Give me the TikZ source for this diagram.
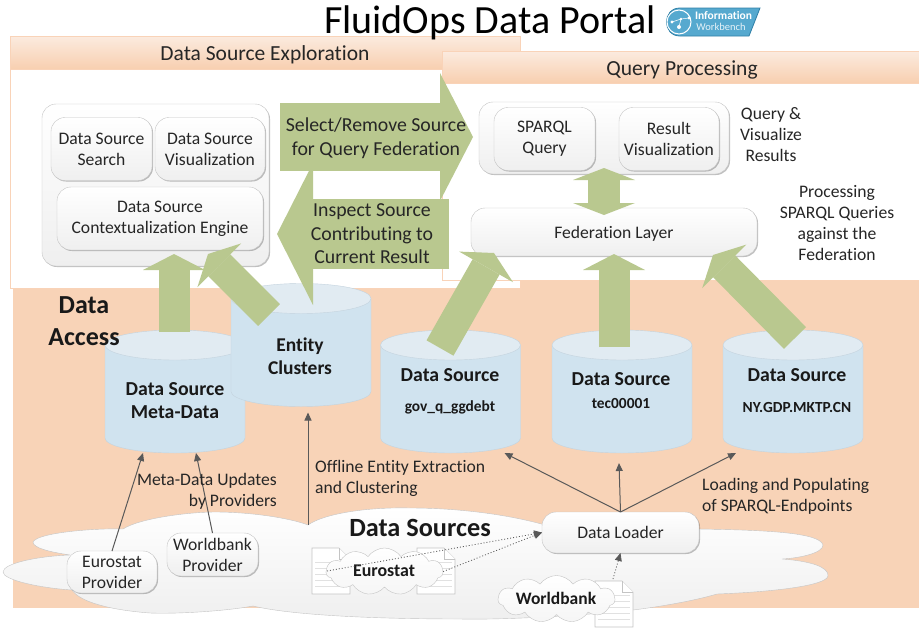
\documentclass[tikz,border=0pt]{standalone}
\usepackage{fontspec}
\setmainfont{Carlito}[Ligatures=NoCommon]
\usetikzlibrary{arrows.meta,shapes.symbols,shadows}
\definecolor{accessorange}{HTML}{F8D3B7}
\definecolor{panelline}{HTML}{F9D3B8}
\definecolor{headtop}{HTML}{FBEBDF}
\definecolor{headbottom}{HTML}{F8CFB0}
\definecolor{blockgreen}{HTML}{B9C88F}
\definecolor{dbbody}{HTML}{D0E3EF}
\definecolor{dbtop}{HTML}{E1EBF2}
\definecolor{dbline}{HTML}{C4D3DE}
\definecolor{softline}{HTML}{C4C4C4}
\definecolor{softend}{HTML}{EFEFEF}
\definecolor{thinarrow}{HTML}{595959}
\definecolor{inktext}{HTML}{262626}
\definecolor{logoblue}{HTML}{56A9CF}
\definecolor{logoline}{HTML}{2F7FA6}
\tikzset{
  note/.style={font=\fontsize{17.6}{21}\selectfont,text=inktext,inner sep=0pt,align=center},
  strongtext/.style={font=\fontsize{#1}{1.2\dimexpr#1pt\relax}\selectfont\bfseries,text=black!90,inner sep=0pt,align=center},
  panel/.style={draw=panelline,fill=white,inner sep=0pt,outer sep=0pt},
  panelhead/.style={draw=panelline,top color=headtop,bottom color=headbottom,inner sep=0pt,outer sep=0pt},
  softbox/.style={draw=softline,top color=white,bottom color=softend,rounded corners=14pt,inner sep=0pt,outer sep=0pt,
    align=center,font=\fontsize{17.6}{21}\selectfont,text=inktext,
    drop shadow={shadow xshift=1pt,shadow yshift=-1pt,opacity=.25,fill=black}},
  textdrop/.style={execute at begin node={\rule{0pt}{#1}}},
  blockarrow/.style={color=blockgreen,line width=#1},
  thinlink/.style={draw=thinarrow,line width=1pt,-{Triangle[length=8pt,width=7pt]}},
  dotlink/.style={thinlink,dotted,line width=.8pt},
  puff/.style={shape=cloud,cloud puffs=11,cloud puff arc=110,aspect=2.5,draw=softline,top color=white,bottom color=softend!60!white,
    inner sep=0pt,outer sep=0pt,minimum width=117pt,minimum height=47pt},
  docpage/.style={draw=softline,fill=white,line width=.7pt}
}
\begin{document}
\begin{tikzpicture}[x=1pt,y=-1pt]
  \useasboundingbox (0,0) rectangle (919,627);

  %orange background
	\fill[accessorange] (13,280) rectangle (919,608);

  %exploration panel
	\node[panel,minimum width=510pt,minimum height=252pt] (explorepanel) at (265,162) {};
	\node[panelhead,minimum width=510pt,minimum height=33pt] (explorehead) at (265,52.5) {};
	\node[note,font=\fontsize{21.5}{25}\selectfont] (exploretitle) at (265,54.5) {Data Source Exploration};

  %query panel
	\node[panel,minimum width=477pt,minimum height=229pt] (querypanel) at (680.5,165.5) {};
	\node[panelhead,minimum width=477pt,minimum height=32pt] (queryhead) at (680.5,67) {};
	\node[note,font=\fontsize{21.5}{25}\selectfont] (querytitle) at (682,69.5) {Query Processing};

  %title and logo
	\node[inner sep=0pt,font=\fontsize{40}{48}\selectfont] (portaltitle) at (490,23) {FluidOps Data Portal};
	\draw[logoline,fill=logoblue,line width=.8pt] (680,8) -- (760,8) -- (749,36) -- (680,36) .. controls (662,36) and (662,8) .. (680,8) -- cycle;
	\node[circle,draw=white,fill=logoblue,line width=1pt,minimum size=24pt,inner sep=0pt] (logodisc) at (679,22) {};
	\fill[white] (672,22) circle (1.6) (681,19) circle (1.4) (689,18) circle (1.6) (679,27) circle (2);
	\draw[white,line width=.5pt] (672,22) -- (681,19) -- (689,18) (681,19) -- (679,27);
	\node[inner sep=0pt,text=white,font=\fontsize{11.5}{12}\selectfont\bfseries] (logotop) at (723.5,16) {Information};
	\node[inner sep=0pt,text=white!85!logoblue,font=\fontsize{10.5}{11}\selectfont] (logobottom) at (721,27) {Workbench};

  %exploration boxes
	\node[softbox,minimum width=227pt,minimum height=162pt] (exploregroup) at (155.5,185) {};
	\node[softbox,minimum width=101pt,minimum height=63pt] (sourcesearch) at (101.5,149) {Data Source\\Search};
	\node[softbox,minimum width=110pt,minimum height=63pt] (sourceviz) at (210,149) {Data Source\\Visualization};
	\node[softbox,textdrop=21pt,minimum width=206pt,minimum height=63pt] (contextengine) at (160,218.5) {Data Source\\Contextualization Engine};

  %query boxes
	\node[softbox,minimum width=250pt,minimum height=72pt] (querygroup) at (604,138) {};
	\node[softbox,minimum width=101pt,minimum height=63pt] (sparqlquery) at (544.5,139) {SPARQL\\Query};
	\node[softbox,minimum width=100pt,minimum height=63pt] (resultviz) at (669,139) {Result\\Visualization};
	\node[softbox,textdrop=15pt,minimum width=286pt,minimum height=48pt] (federation) at (614,232) {Federation Layer};

  %side notes
	\node[note] (querynote) at (771,134.5) {Query \&\\Visualize\\Results};
	\node[note] (processnote) at (837,223.5) {Processing\\SPARQL Queries\\against the\\Federation};

  %cylinders
	\foreach \dbname/\dbx/\dby in {metadb/175/391.5,entitydb/301/345,gdbdb/450.5/391.5,tecdb/622/391.5,gdpdb/793/391.5}{
	  \node[minimum width=140pt,minimum height=123pt,inner sep=0pt,outer sep=0pt] (\dbname) at (\dbx,\dby) {};
	  \draw[dbline,fill=dbbody] ([yshift=-15pt]\dbname.north west) -- ([yshift=15pt]\dbname.south west)
	    arc[start angle=180,end angle=360,x radius=70pt,y radius=15pt] -- ([yshift=-15pt]\dbname.north east) -- cycle;
	  \draw[dbline,fill=dbtop] ([yshift=-15pt]\dbname.north) ellipse[x radius=70pt,y radius=15pt];
	}
	\node[strongtext=26] (accesslabel) at (84,321.5) {Data\\[1pt]Access};
	\node[strongtext=19.8] (metalabel) at (175,400.5) {Data Source\\Meta-Data};
	\node[strongtext=19.5] (entitylabel) at (300,356.5) {Entity\\Clusters};
	\node[strongtext=19.8] (gdbtitle) at (450,375.5) {Data Source};
	\node[strongtext=15.4] (gdbcode) at (450,407) {gov\_q\_ggdebt};
	\node[strongtext=19.8] (tectitle) at (621,379.5) {Data Source};
	\node[strongtext=15.4] (teccode) at (621,404) {tec00001};
	\node[strongtext=19.8] (gdptitle) at (797,375.5) {Data Source};
	\node[strongtext=15.4] (gdpcode) at (797,407) {NY.GDP.MKTP.CN};

  %block arrows
	\coordinate (metatail) at (174,332);
	\coordinate (metatip) at (174,254);
	\coordinate (entitytail) at (269,315);
	\coordinate (entitytip) at (208,254);
	\coordinate (gdbtail) at (440,348);
	\coordinate (gdbtip) at (494,253);
	\coordinate (tectail) at (614,347);
	\coordinate (tectip) at (614,254);
	\coordinate (gdptail) at (795,338);
	\coordinate (gdptip) at (713,255);
	\coordinate (bothtop) at (604,168);
	\coordinate (bothbottom) at (604,215);
	\coordinate (selecttail) at (280,137);
	\coordinate (selecttip) at (473,137);
	\coordinate (inspecttail) at (449,234);
	\coordinate (inspecttip) at (277,234);
	\draw[blockarrow=31pt,-{Triangle[length=16pt,width=62pt,line width=0pt]}] (metatail) -- (metatip);
	\draw[blockarrow=31pt,-{Triangle[length=16pt,width=62pt,line width=0pt]}] (entitytail) -- (entitytip);
	\draw[blockarrow=31pt,-{Triangle[length=16pt,width=62pt,line width=0pt]}] (gdbtail) -- (gdbtip);
	\draw[blockarrow=31pt,-{Triangle[length=16pt,width=62pt,line width=0pt]}] (tectail) -- (tectip);
	\draw[blockarrow=31pt,-{Triangle[length=16pt,width=62pt,line width=0pt]}] (gdptail) -- (gdptip);
	\draw[blockarrow=32pt,{Triangle[length=12pt,width=62pt,line width=0pt]}-{Triangle[length=12pt,width=62pt,line width=0pt]}] (bothtop) -- (bothbottom);
	\draw[blockarrow=68pt,-{Triangle[length=33pt,width=128pt,line width=0pt]}] (selecttail) -- (selecttip);
	\draw[blockarrow=70pt,-{Triangle[length=36pt,width=142pt,line width=0pt]}] (inspecttail) -- (inspecttip);
	\node[note,font=\fontsize{19.8}{24}\selectfont] (selectlabel) at (376,138) {Select/Remove Source\\for Query Federation};
	\node[note,font=\fontsize{19.8}{23.5}\selectfont] (inspectlabel) at (372,234) {Inspect Source\\Contributing to\\Current Result};

  %big cloud
	\path[draw=softline,top color=white,bottom color=softend] (33,542) .. controls (38,532) and (100,528) .. (123,529)
	  .. controls (140,518) and (190,512) .. (215,512) .. controls (250,512) and (290,518) .. (308,525)
	  .. controls (325,513) and (370,507) .. (410,508) .. controls (460,508) and (510,515) .. (545,525)
	  -- (698,529) .. controls (760,530) and (820,532) .. (823,545) .. controls (823,553) and (800,558) .. (782,559)
	  .. controls (810,561) and (829,567) .. (828,576) .. controls (826,586) and (770,592) .. (717,594)
	  .. controls (690,602) and (650,608) .. (633,610) .. controls (580,616) and (500,620) .. (460,619)
	  .. controls (400,619) and (300,617) .. (253,606) .. controls (220,612) and (170,614) .. (150,613)
	  .. controls (110,610) and (80,602) .. (72,590) .. controls (40,588) and (3,580) .. (3,572)
	  .. controls (3,563) and (40,556) .. (70,555) .. controls (50,552) and (33,548) .. (33,542) -- cycle;
	\coordinate (cloudtop) at (308,525);
	\node[strongtext=26.3] (sourceslabel) at (420,527.5) {Data Sources};

  %documents
	\foreach \docx/\docy in {312/548,417/548,595/581}{
	  \draw[docpage] (\docx,\docy) -- ++(27,0) -- ++(11,11) -- ++(0,35) -- ++(-38,0) -- cycle;
	  \draw[docpage] (\docx+27,\docy) -- ++(0,11) -- ++(11,0);
	  \foreach \docline in {14,20,...,38}
	    \draw[softline!50,line width=.5pt] (\docx+3,\docy+\docline) -- ++(32,0);
	}

  %small clouds
	\node[puff] (eurostatcloud) at (384.5,571.5) {};
	\node[strongtext=17.9] (eurostatlabel) at (384,571) {Eurostat};
	\node[puff] (worldbankcloud) at (556.5,599) {};
	\node[strongtext=17.5] (worldbanklabel) at (556,598) {Worldbank};

  %providers and loader
	\node[softbox,minimum width=90pt,minimum height=42pt] (eurostatprov) at (112,572) {Eurostat\\Provider};
	\node[softbox,minimum width=91pt,minimum height=43pt] (worldbankprov) at (212.5,554.5) {Worldbank\\Provider};
	\node[softbox,minimum width=157pt,minimum height=41pt] (dataloader) at (620.5,532.5) {Data Loader};

  %thin arrows
	\draw[thinlink] (eurostatprov.north) -- ([xshift=-32pt]metadb.south);
	\draw[thinlink] (worldbankprov.north) -- ([xshift=21pt]metadb.south);
	\draw[thinlink] (cloudtop) -- ([xshift=7pt,yshift=-6pt]entitydb.south);
	\draw[thinlink] (dataloader.north) -- ([xshift=54pt]gdbdb.south);
	\draw[thinlink] (dataloader.north) -- ([xshift=-3pt,yshift=-10pt]tecdb.south);
	\draw[thinlink] (dataloader.north) -- ([xshift=-57pt]gdpdb.south);
	\coordinate (eurostatleft) at (327,571);
	\coordinate (worlddoc) at (613,579);
	\draw[dotlink] (eurostatleft) -- (dataloader.west);
	\draw[dotlink] (eurostatcloud.east) -- (dataloader.west);
	\draw[dotlink] (worlddoc) -- (dataloader.south);

  %lower notes
	\node[note,align=right,anchor=east] (updatesnote) at (277,491) {Meta-Data Updates\\by Providers};
	\node[note,align=left,anchor=west] (offlinenote) at (315,478) {Offline Entity Extraction\\and Clustering};
	\node[note,align=left,anchor=west] (loadingnote) at (702,496) {Loading and Populating\\of SPARQL-Endpoints};
\end{tikzpicture}
\end{document}
